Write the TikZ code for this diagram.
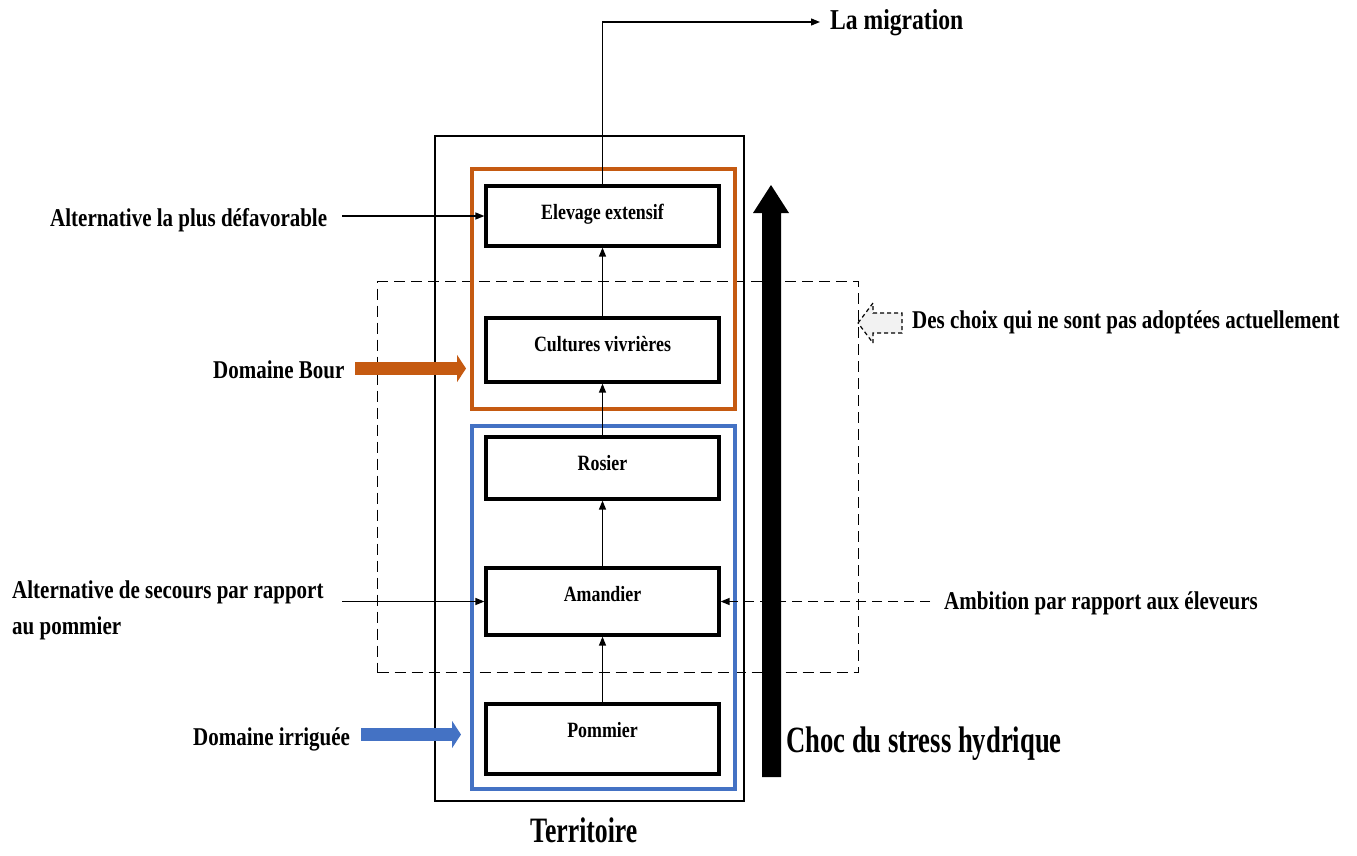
\documentclass[tikz,border=0pt]{standalone}
\usepackage{fontspec}
\setmainfont{Liberation Serif}[FakeStretch=0.82]
\newfontfamily\narrowserif{Liberation Serif}[FakeStretch=0.72]
\usetikzlibrary{arrows.meta}
\definecolor{bourorange}{HTML}{C55A11}
\definecolor{irrblue}{HTML}{4472C4}
\definecolor{choixgray}{HTML}{F2F2F2}
\begin{document}
\begin{tikzpicture}[x=1pt,y=-1pt,
  cropbox/.style={draw, line width=3.2pt, minimum width=233pt, inner sep=0pt,
    text height=33pt, anchor=north, font=\bfseries\fontsize{21.8}{26}\selectfont},
  lbl/.style={font=\bfseries\fontsize{25.6}{36}\selectfont, inner sep=0pt, anchor=base west},
  biglbl/.style={font=\narrowserif\bfseries\fontsize{37}{44}\selectfont, inner sep=0pt, anchor=base west},
  frame/.style={draw, inner sep=0pt, anchor=north west},
  link/.style={line width=1.3pt, -{Triangle[length=9pt,width=7pt]}},
  dashlink/.style={link, dash pattern=on 10pt off 6pt},
  fatarrow/.style={line width=13pt, -{Triangle[length=9pt,width=27pt]}}
]
\useasboundingbox (0,0) rectangle (1357,855);

% frames: territory, dashed group, rainfed and irrigated domains
\node[frame, line width=2pt, minimum width=309pt, minimum height=665pt] (terrbox) at (434,135) {};
\node[frame, line width=1.2pt, dash pattern=on 11pt off 6pt, minimum width=481pt, minimum height=391pt] (choixbox) at (377,281) {};
\node[frame, draw=bourorange, line width=3.5pt, minimum width=263pt, minimum height=240pt] (bourbox) at (470,167) {};
\node[frame, draw=irrblue, line width=3.5pt, minimum width=263pt, minimum height=363pt] (irrbox) at (470,424) {};

% crop boxes
\node[cropbox, text depth=27pt] (elev) at (602.5,184.4) {Elevage extensif};
\node[cropbox, text depth=31pt] (vivr) at (602.5,316.4) {Cultures vivrières};
\node[cropbox, text depth=29pt] (ros)  at (602.5,435.4) {Rosier};
\node[cropbox, text depth=34pt] (aman) at (602.5,566.4) {Amandier};
\node[cropbox, text depth=37pt] (pom)  at (602.5,702.4) {Pommier};

\draw[link] (pom.north) -- (aman.south);
\draw[link] (aman.north) -- (ros.south);
\draw[link] (ros.north) -- (vivr.south);
\draw[link] (vivr.north) -- (elev.south);

% migration exit
\node[lbl, font=\bfseries\fontsize{28.8}{34}\selectfont] (mig) at (830,29) {La migration};
\coordinate (migtip) at (820,22);
\draw[link] (elev.north) |- (migtip);

% side labels and their links
\coordinate (leftstart) at (342,0);
\coordinate (rightstart) at (930,0);

\node[lbl] (defav) at (50,226) {Alternative la plus défavorable};
\draw[link] (leftstart |- elev.west) -- (elev.west);

\node[lbl, anchor=west, align=left] (secours) at (12,610) {Alternative de secours par rapport\\au pommier};
\draw[link] (leftstart |- aman.west) -- (aman.west);

\node[lbl] (ambition) at (944,609) {Ambition par rapport aux éleveurs};
\draw[dashlink] (rightstart |- aman.east) -- (aman.east);

\node[lbl] (bour) at (213,378) {Domaine Bour};
\coordinate (bourstart) at (355,368.5);
\coordinate (bourtip) at (466,368.5);
\draw[fatarrow, bourorange] (bourstart) -- (bourtip);

\node[lbl] (irr) at (193,745) {Domaine irriguée};
\coordinate (irrstart) at (361,734.5);
\coordinate (irrtip) at (461,734.5);
\draw[fatarrow, irrblue] (irrstart) -- (irrtip);

% choices not adopted
\node[lbl] (choix) at (912,328) {Des choix qui ne sont pas adoptées actuellement};
\draw[fill=choixgray, line width=1.2pt, dash pattern=on 4pt off 3pt]
  (858,323) -- (873,303) -- (873,313) -- (902,313) -- (902,333) -- (873,333) -- (873,343) -- cycle;

% water stress arrow
\fill (762,777) -- (762,213) -- (753,213) -- (771,185) -- (789,213) -- (781,213) -- (781,777) -- cycle;
\node[biglbl] (choc) at (786,752) {Choc du stress hydrique};
\node[biglbl, font=\narrowserif\bfseries\fontsize{35.7}{42}\selectfont] (terr) at (530,842) {Territoire};
\end{tikzpicture}
\end{document}
